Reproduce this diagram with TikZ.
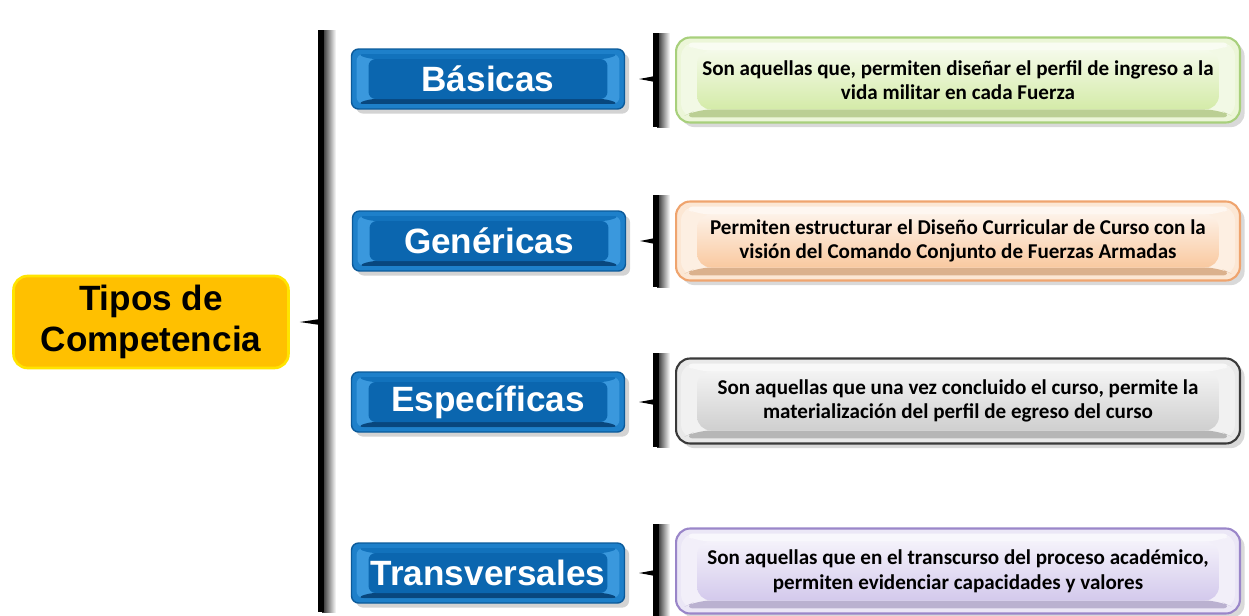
\documentclass[tikz,border=0pt]{standalone}
\usepackage{fontspec}
\setmainfont{Liberation Sans}
\newfontfamily\descfamily{Carlito}
\usetikzlibrary{shadows}

\definecolor{rootfill}{HTML}{FFC000}
\definecolor{rootline}{HTML}{FFE400}
\definecolor{catblue}{HTML}{1E80CA}
\definecolor{catrim}{HTML}{0B5A9A}
\definecolor{catlight}{HTML}{3A98DD}
\definecolor{catmid}{HTML}{1272BC}
\definecolor{catdark}{HTML}{08477E}
\definecolor{catface}{HTML}{0B66AF}
\definecolor{dgreen}{HTML}{D4EBA8}
\definecolor{dgreenline}{HTML}{A8D07C}
\definecolor{dorange}{HTML}{F9C9A0}
\definecolor{dorangeline}{HTML}{EFA46E}
\definecolor{dgrey}{HTML}{CFCFCF}
\definecolor{dgreyline}{HTML}{3A3A3A}
\definecolor{dlilac}{HTML}{D3C9EC}
\definecolor{dlilacline}{HTML}{9A86C9}

\newcommand{\catfont}{\fontsize{20}{23.5}\selectfont\bfseries}
\newcommand{\descfont}{\descfamily\fontsize{12}{14}\selectfont\bfseries}

\begin{document}
\begin{tikzpicture}[x=0.02cm, y=-0.02cm,
        rootbox/.style={rectangle, rounded corners=8pt, draw=rootline, line width=1.5pt, fill=rootfill,
            minimum width=5.5cm, minimum height=1.84cm, font=\catfont, align=center},
        catbox/.style={rectangle, rounded corners=4pt, draw=catrim, line width=0.8pt, fill=catblue,
            minimum width=5.46cm, minimum height=1.2cm, font=\catfont, text=white,
            drop shadow={opacity=.35},
            path picture={
                \coordinate (a) at ([shift={(0.1cm,0.1cm)}]path picture bounding box.south west);
                \coordinate (b) at ([shift={(-0.1cm,-0.1cm)}]path picture bounding box.north east);
                \coordinate (c) at ([shift={(0.34cm,0.2cm)}]path picture bounding box.south west);
                \coordinate (d) at ([shift={(-0.34cm,-0.2cm)}]path picture bounding box.north east);
                \fill[catlight] (a) rectangle (b);
                \fill[catdark] (a) -- (a -| b) -- (c -| d) -- (c) -- cycle;
                \fill[catmid] (a |- b) -- (b) -- (d) -- (c |- d) -- cycle;
                \fill[catface] (c) rectangle (d);
            }},
        descbox/.style 2 args={rectangle, rounded corners=8pt, draw=#2, line width=1.2pt, fill=#1!45!white,
            minimum width=11.28cm, minimum height=1.7cm, font=\descfont, align=center,
            drop shadow={opacity=.3},
            path picture={
                \coordinate (a) at ([shift={(0.1cm,0.1cm)}]path picture bounding box.south west);
                \coordinate (b) at ([shift={(-0.1cm,-0.1cm)}]path picture bounding box.north east);
                \coordinate (c) at ([shift={(0.42cm,0.26cm)}]path picture bounding box.south west);
                \coordinate (d) at ([shift={(-0.42cm,-0.26cm)}]path picture bounding box.north east);
                \fill[#1!30!white] (a) rectangle (b);
                \fill[#1!88!black] (a) -- (a -| b) -- (c -| d) -- (c) -- cycle;
                \fill[#1!15!white] (a |- b) -- (b) -- (d) -- (c |- d) -- cycle;
                \shade[top color=#1!25!white, bottom color=#1] (c) rectangle (d);
            }},
        brace/.style={line width=0.13cm, black},
        braceshade/.style={left color=black!85, right color=white}
    ]
    \useasboundingbox (0,0) rectangle (1249,616);

    \node[rootbox, font=\fontsize{20}{24}\selectfont\bfseries] (root) at (151,322) {Tipos de\\[-0.5pt]Competencia};

    \node[catbox] (bas) at (488,79) {Básicas};
    \node[catbox] (gen) at (489,241) {Genéricas};
    \node[catbox] (esp) at (488,402) {Específicas};
    \node[catbox] (tra) at (488,573) {Transversales};

    \node[descbox={dgreen}{dgreenline}] (dbas) at (958,80)
        {Son aquellas que, permiten diseñar el perfil de ingreso a la\\ vida militar en cada Fuerza};
    \node[descbox={dorange}{dorangeline}, minimum height=1.58cm] (dgen) at (958,241)
        {Permiten estructurar el Diseño Curricular de Curso con la\\ visión del Comando Conjunto de Fuerzas Armadas};
    \node[descbox={dgrey}{dgreyline}] (desp) at (958,401)
        {Son aquellas que una vez concluido el curso, permite la\\ materialización del perfil de egreso del curso};
    \node[descbox={dlilac}{dlilacline}] (dtra) at (958,571)
        {Son aquellas que en el transcurso del proceso académico,\\ permiten evidenciar capacidades y valores};

    % brackets
    \shade[braceshade] (322,30) rectangle (336,612);
    \draw[brace] (321,30) -- (321,612);
    \coordinate (b0) at (321,322);
    \fill ([yshift=1.8pt]b0) -- ([xshift=0.2cm]root.east) -- ([yshift=-1.8pt]b0) -- cycle;
    \foreach \ya/\yb/\ym/\cat in {33/127/79/bas, 195/287/241/gen, 353/447/402/esp, 524/616/573/tra} {
        \shade[braceshade] (657,\ya) rectangle (670,\yb);
        \draw[brace] (656,\ya) -- (656,\yb);
        \fill ([yshift=1.8pt]656,\ym) -- ([xshift=0.28cm]\cat.east) -- ([yshift=-1.8pt]656,\ym) -- cycle;
    }
\end{tikzpicture}
\end{document}
